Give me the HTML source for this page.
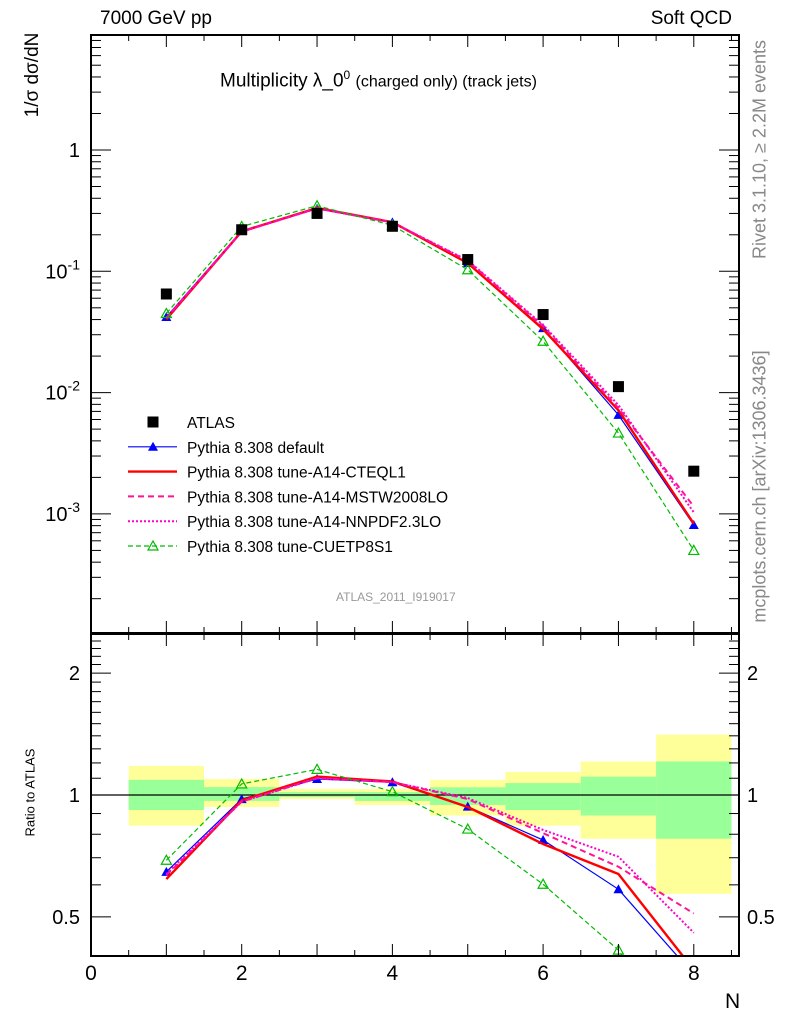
<!DOCTYPE html>
<html><head><meta charset="utf-8"><style>
html,body{margin:0;padding:0;background:#fff;}
svg{display:block;font-family:"Liberation Sans",sans-serif;}
</style></head><body>
<svg id="c" width="786" height="1024" viewBox="0 0 786 1024"></svg>
<script>
const categories=[1,2,3,4,5,6,7,8];
const atlas=[0.065,0.22,0.30,0.235,0.125,0.044,0.0112,0.00225];
const rDefault=[0.646,0.977,1.095,1.075,0.936,0.774,0.585,0.36];
const rCTEQ=[0.62,0.97,1.11,1.08,0.934,0.757,0.638,0.37];
const rMSTW=[0.634,0.963,1.10,1.076,0.977,0.805,0.665,0.51];
const rNNPDF=[0.638,0.963,1.10,1.076,0.983,0.82,0.704,0.457];
const rCUETP=[0.69,1.065,1.157,1.019,0.824,0.602,0.414,0.22];
const mcDefault=[0.042,0.215,0.328,0.253,0.117,0.034,0.00655,0.00081];
const mcCTEQ=[0.0403,0.213,0.333,0.254,0.1168,0.0333,0.00715,0.00083];
const mcMSTW=[0.0412,0.212,0.33,0.253,0.122,0.0354,0.00745,0.00115];
const mcNNPDF=[0.0415,0.212,0.33,0.253,0.123,0.0361,0.00789,0.00103];
const mcCUETP=[0.0449,0.234,0.347,0.2395,0.103,0.0265,0.00464,0.0005];
const bandYLo=[0.84,0.934,0.977,0.945,0.89,0.84,0.78,0.57];
const bandYHi=[1.18,1.095,1.035,1.035,1.09,1.14,1.21,1.41];
const bandGLo=[0.918,0.967,0.989,0.967,0.945,0.918,0.89,0.78];
const bandGHi=[1.09,1.046,1.017,1.017,1.045,1.07,1.11,1.21];
const xTicks=[0,2,4,6,8];
const mainTicks=[1,0.1,0.01,0.001];
const mainTickLabels=['1','10^-1','10^-2','10^-3'];
const ratioTicks=[2,1,0.5];

const NS='http://www.w3.org/2000/svg';
const svg=document.getElementById('c');
const L=91,R=739,MT=35,MB=633,RT=634,RB=956;
const X=v=>L+(v/8.6)*(R-L);
const Y=v=>150-Math.log10(v)*121.3;
const YR=v=>795-Math.log10(v)*405;
function el(t,a,p){const e=document.createElementNS(NS,t);for(const k in a)e.setAttribute(k,a[k]);(p||svg).appendChild(e);return e;}
function txt(s,a){const e=el('text',a);e.textContent=s;return e;}

categories.forEach((c,i)=>{
  const x0=X(c-0.5),x1=X(c+0.5);
  const y=el('rect',{x:x0,y:YR(bandYHi[i]),width:x1-x0,height:YR(bandYLo[i])-YR(bandYHi[i]),fill:'#ffff99'});
  
  
  const g=el('rect',{x:x0,y:YR(bandGHi[i]),width:x1-x0,height:YR(bandGLo[i])-YR(bandGHi[i]),fill:'#99ff99'});
  
  
});
el('line',{x1:L,x2:R,y1:YR(1),y2:YR(1),stroke:'#000','stroke-width':1.2});

const defs=el('defs',{});
const cp1=el('clipPath',{id:'cm'},defs);el('rect',{x:L,y:MT,width:R-L,height:MB-MT},cp1);
const cp2=el('clipPath',{id:'cr'},defs);el('rect',{x:L,y:RT,width:R-L,height:RB-RT},cp2);

const series=[
 {name:'default',main:mcDefault,ratio:rDefault,color:'#0000ff',w:1.2,dash:'',marker:'tri'},
 {name:'cteql1',main:mcCTEQ,ratio:rCTEQ,color:'#ff0000',w:2.4,dash:'',marker:''},
 {name:'mstw',main:mcMSTW,ratio:rMSTW,color:'#ff1493',w:2,dash:'6,4',marker:''},
 {name:'nnpdf',main:mcNNPDF,ratio:rNNPDF,color:'#ff00cc',w:2,dash:'2,2',marker:''},
 {name:'cuetp8s1',main:mcCUETP,ratio:rCUETP,color:'#00bb00',w:1.2,dash:'5,3',marker:'otri'}
];
function marker(type,x,y,color,name){
  let e;
  if(type==='tri')e=el('polygon',{points:`${x-5},${y+4} ${x+5},${y+4} ${x},${y-5}`,fill:color});
  else if(type==='otri')e=el('polygon',{points:`${x-5},${y+4} ${x+5},${y+4} ${x},${y-5}`,fill:'none',stroke:color,'stroke-width':1.2});
  else if(type==='sq')e=el('rect',{x:x-5.5,y:y-5.5,width:11,height:11,fill:'#000'});
  if(e){}
  return e;
}
series.forEach(s=>{
  const gm=el('g',{'clip-path':'url(#cm)'});
  
  
  el('polyline',{points:categories.map((c,i)=>X(c)+','+Y(s.main[i])).join(' '),fill:'none',stroke:s.color,'stroke-width':s.w,'stroke-dasharray':s.dash},gm);
  const gr=el('g',{'clip-path':'url(#cr)'});
  
  
  el('polyline',{points:categories.map((c,i)=>X(c)+','+YR(s.ratio[i])).join(' '),fill:'none',stroke:s.color,'stroke-width':s.w,'stroke-dasharray':s.dash},gr);
  if(s.marker){
    categories.forEach((c,i)=>{
      const m1=marker(s.marker,X(c),Y(s.main[i]),s.color,'point-'+s.name);gm.appendChild(m1);
      const m2=marker(s.marker,X(c),YR(s.ratio[i]),s.color,'ratio-point-'+s.name);gr.appendChild(m2);
    });
  }
});
categories.forEach((c,i)=>{marker('sq',X(c),Y(atlas[i]),'#000','atlas-point');});

el('rect',{x:L,y:MT,width:R-L,height:MB-MT,fill:'none',stroke:'#000','stroke-width':2});
el('rect',{x:L,y:RT,width:R-L,height:RB-RT,fill:'none',stroke:'#000','stroke-width':2});

for(let v=0;v<=8.5;v+=0.5){
  const len=(v%1===0)?12:6;const x=X(v);
  [[MT,1],[MB,-1],[RT,1],[RB,-1]].forEach(([y,d])=>el('line',{x1:x,x2:x,y1:y,y2:y+d*len,stroke:'#000','stroke-width':1}));
}
xTicks.forEach(v=>{const t=txt(String(v),{x:X(v),y:980,'font-size':21,'text-anchor':'middle'});});
for(let e=-4;e<=0;e++){for(let m=1;m<=9;m++){const v=m*Math.pow(10,e);const y=Y(v);if(y<MT||y>MB)continue;const len=m===1?20:10;
  el('line',{x1:L,x2:L+len,y1:y,y2:y,stroke:'#000'});el('line',{x1:R,x2:R-len,y1:y,y2:y,stroke:'#000'});}}
mainTicks.forEach((v,i)=>{
  const lab=mainTickLabels[i];let t;
  if(lab.indexOf('^')<0){t=txt(lab,{x:80,y:Y(v)+7,'font-size':20,'text-anchor':'end'});}
  else{const p=lab.split('^');t=el('text',{x:80,y:Y(v)+7,'font-size':20,'text-anchor':'end'});
    const a=el('tspan',{},t);a.textContent=p[0];const b=el('tspan',{dy:-9,'font-size':14},t);b.textContent=p[1];}
  
});
[0.4,0.5,0.6,0.7,0.8,0.9,1,1.1,1.2,1.3,1.4,1.5,1.6,1.7,1.8,1.9,2,2.1,2.2,2.3,2.4].forEach(v=>{const y=YR(v);if(y<RT||y>RB)return;
  const len=(v===0.5||v===1||v===2)?20:10;el('line',{x1:L,x2:L+len,y1:y,y2:y,stroke:'#000'});el('line',{x1:R,x2:R-len,y1:y,y2:y,stroke:'#000'});});
ratioTicks.forEach(v=>{
  const t1=txt(String(v),{x:80,y:YR(v)+7,'font-size':20,'text-anchor':'end'});
  const t2=txt(String(v),{x:747,y:YR(v)+7,'font-size':20});
});

const leg=[['ATLAS','sq','#000',0,''],['Pythia 8.308 default','tri','#0000ff',1.2,''],['Pythia 8.308 tune-A14-CTEQL1','','#ff0000',2.4,''],
 ['Pythia 8.308 tune-A14-MSTW2008LO','','#ff1493',2,'6,4'],['Pythia 8.308 tune-A14-NNPDF2.3LO','','#ff00cc',2,'2,2'],['Pythia 8.308 tune-CUETP8S1','otri','#00bb00',1.2,'5,3']];
leg.forEach((l,i)=>{const y=422+i*24.8;
  const g=el('g',{});
  if(l[3])el('line',{x1:128,x2:177,y1:y,y2:y,stroke:l[2],'stroke-width':l[3],'stroke-dasharray':l[4]},g);
  if(l[1]){const m=marker(l[1],153,y,l[2],'legend-marker');g.appendChild(m);}
  const t=el('text',{x:187,y:y+6,'font-size':15.5},g);t.textContent=l[0];
});
</script>
<div style="position:absolute;left:0;top:0;width:786px;height:1024px;pointer-events:none;font-family:'Liberation Sans',sans-serif;">
<div style="position:absolute;left:100px;top:8px;font-size:19px;">7000 GeV pp</div>
<div style="position:absolute;right:54px;top:8px;font-size:19px;">Soft QCD</div>
<div style="position:absolute;left:220px;top:68px;font-size:19px;white-space:nowrap;">Multiplicity λ_0<sup style="font-size:12px;">0</sup> <span style="font-size:16px;">(charged only) (track jets)</span></div>
<div style="position:absolute;left:-22px;top:64px;width:110px;transform:rotate(-90deg);font-size:19px;text-align:center;white-space:nowrap;">1/σ dσ/dN</div>
<div style="position:absolute;left:-25px;top:785px;width:110px;transform:rotate(-90deg);font-size:13px;text-align:center;white-space:nowrap;">Ratio to ATLAS</div>
<div style="position:absolute;left:610px;top:139px;width:300px;transform:rotate(-90deg);font-size:18px;color:#888;text-align:center;white-space:nowrap;">Rivet 3.1.10, ≥ 2.2M events</div>
<div style="position:absolute;left:585px;top:476px;width:350px;transform:rotate(-90deg);font-size:18px;color:#888;text-align:center;white-space:nowrap;">mcplots.cern.ch [arXiv:1306.3436]</div>
<div style="position:absolute;left:336px;top:590px;font-size:12px;color:#999;">ATLAS_2011_I919017</div>
<div style="position:absolute;left:725px;top:990px;font-size:21px;">N</div>
</div>
</body></html>
